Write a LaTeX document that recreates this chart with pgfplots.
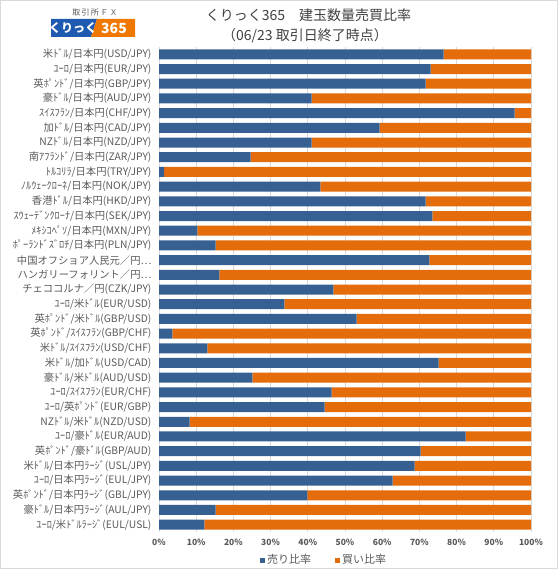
\documentclass[border=0pt]{standalone}
\usepackage{fontspec}
\setmainfont{Noto Sans CJK JP}
\usepackage{pgfplots}
\usepackage{pgfplotstable}
\pgfplotsset{compat=1.18}
\definecolor{sellc}{RGB}{54,96,146}
\definecolor{buyc}{RGB}{228,108,10}
\definecolor{txt}{RGB}{89,89,89}
\definecolor{ttl}{RGB}{64,64,64}
\definecolor{gridc}{RGB}{217,217,217}
\definecolor{logob}{RGB}{30,90,175}
\definecolor{logoo}{RGB}{240,120,0}

\pgfplotstableread{
idx sell buy
0 76.5 23.5
1 73.0 27.0
2 71.7 28.3
3 41.0 59.0
4 95.6 4.4
5 59.3 40.7
6 41.0 59.0
7 24.6 75.4
8 1.4 98.6
9 43.4 56.6
10 71.7 28.3
11 73.5 26.5
12 10.3 89.7
13 15.2 84.8
14 72.7 27.3
15 16.2 83.8
16 46.9 53.1
17 33.7 66.3
18 53.1 46.9
19 3.6 96.4
20 13.0 87.0
21 75.2 24.8
22 25.1 74.9
23 46.4 53.6
24 44.5 55.5
25 8.2 91.8
26 82.4 17.6
27 70.3 29.7
28 68.7 31.3
29 62.8 37.2
30 39.9 60.1
31 15.2 84.8
32 12.2 87.8
}\data

\begin{document}
\begin{tikzpicture}[x=1pt,y=1pt]
\path[use as bounding box] (0,0) rectangle (558,569);
\draw[gridc] (0.5,0.5) rectangle (557.5,568.5);
% logo
\node[text=txt, font=\fontsize{8}{8}\selectfont] at (95,556.5) {取\,引\,所\,Ｆ\,Ｘ};
\fill[logob] (51,550) -- (97,550) -- (91,532) -- (51,532) -- cycle;
\fill[logoo] (97,550) -- (135,550) -- (135,532) -- (91,532) -- cycle;
\node[text=white, font=\fontsize{12}{12}\selectfont\bfseries] at (73,541) {くりっく};
\node[text=white, font=\fontsize{14}{14}\selectfont\bfseries\itshape] at (114,541) {365};
% title
\node[text=ttl, font=\fontsize{14}{14}\selectfont] at (308.5,554) {くりっく365　建玉数量売買比率};
\node[text=ttl, font=\fontsize{14}{14}\selectfont] at (305,533.5) {（06/23 取引日終了時点）};
\begin{axis}[
  at={(159pt,37pt)}, anchor=south west,
  scale only axis, width=372pt, height=485pt,
  xbar stacked, bar width=10pt,
  xmin=0, xmax=100, ymin=-0.5, ymax=32.5, y dir=reverse,
  xtick={0,10,...,100},
  xticklabels={0\%,10\%,20\%,30\%,40\%,50\%,60\%,70\%,80\%,90\%,100\%},
  ytick={0,...,32},
  yticklabels={米ﾄﾞﾙ/日本円(USD/JPY),ﾕｰﾛ/日本円(EUR/JPY),英ﾎﾟﾝﾄﾞ/日本円(GBP/JPY),豪ﾄﾞﾙ/日本円(AUD/JPY),ｽｲｽﾌﾗﾝ/日本円(CHF/JPY),加ﾄﾞﾙ/日本円(CAD/JPY),NZﾄﾞﾙ/日本円(NZD/JPY),南ｱﾌﾗﾝﾄﾞ/日本円(ZAR/JPY),ﾄﾙｺﾘﾗ/日本円(TRY/JPY),ﾉﾙｳｪｰｸﾛｰﾈ/日本円(NOK/JPY),香港ﾄﾞﾙ/日本円(HKD/JPY),ｽｳｪｰﾃﾞﾝｸﾛｰﾅ/日本円(SEK/JPY),ﾒｷｼｺﾍﾟｿ/日本円(MXN/JPY),ﾎﾟｰﾗﾝﾄﾞｽﾞﾛﾁ/日本円(PLN/JPY),中国オフショア人民元／円…,ハンガリーフォリント／円…,チェココルナ／円(CZK/JPY),ﾕｰﾛ/米ﾄﾞﾙ(EUR/USD),英ﾎﾟﾝﾄﾞ/米ﾄﾞﾙ(GBP/USD),英ﾎﾟﾝﾄﾞ/ｽｲｽﾌﾗﾝ(GBP/CHF),米ﾄﾞﾙ/ｽｲｽﾌﾗﾝ(USD/CHF),米ﾄﾞﾙ/加ﾄﾞﾙ(USD/CAD),豪ﾄﾞﾙ/米ﾄﾞﾙ(AUD/USD),ﾕｰﾛ/ｽｲｽﾌﾗﾝ(EUR/CHF),ﾕｰﾛ/英ﾎﾟﾝﾄﾞ(EUR/GBP),NZﾄﾞﾙ/米ﾄﾞﾙ(NZD/USD),ﾕｰﾛ/豪ﾄﾞﾙ(EUR/AUD),英ﾎﾟﾝﾄﾞ/豪ﾄﾞﾙ(GBP/AUD),米ﾄﾞﾙ/日本円ﾗｰｼﾞ(USL/JPY),ﾕｰﾛ/日本円ﾗｰｼﾞ(EUL/JPY),英ﾎﾟﾝﾄﾞ/日本円ﾗｰｼﾞ(GBL/JPY),豪ﾄﾞﾙ/日本円ﾗｰｼﾞ(AUL/JPY),ﾕｰﾛ/米ﾄﾞﾙﾗｰｼﾞ(EUL/USL)},
  major tick length=0pt,
  axis line style={draw=none},
  xmajorgrids, grid style={gridc, line width=0.7pt},
  xticklabel style={font=\fontsize{8.5}{9}\selectfont\bfseries, text=txt, yshift=-4pt},
  yticklabel style={font=\fontsize{10.3}{10.5}\selectfont, text=txt, xshift=-4pt},
  legend columns=2,
  legend style={at={(axis description cs:0.444,0)}, anchor=center, yshift=-28pt,
    draw=none, fill=none, font=\fontsize{11}{11}\selectfont, text=txt,
    /tikz/every even column/.style={column sep=22pt}},
  legend image code/.code={\fill[#1,draw=none] (0pt,-2.5pt) rectangle (5pt,2.5pt);},
]
\addplot[fill=sellc, draw=none] table[x=sell, y=idx] {\data};
\addplot[fill=buyc, draw=none] table[x=buy, y=idx] {\data};
\legend{売り比率,買い比率}
\end{axis}
\end{tikzpicture}
\end{document}
